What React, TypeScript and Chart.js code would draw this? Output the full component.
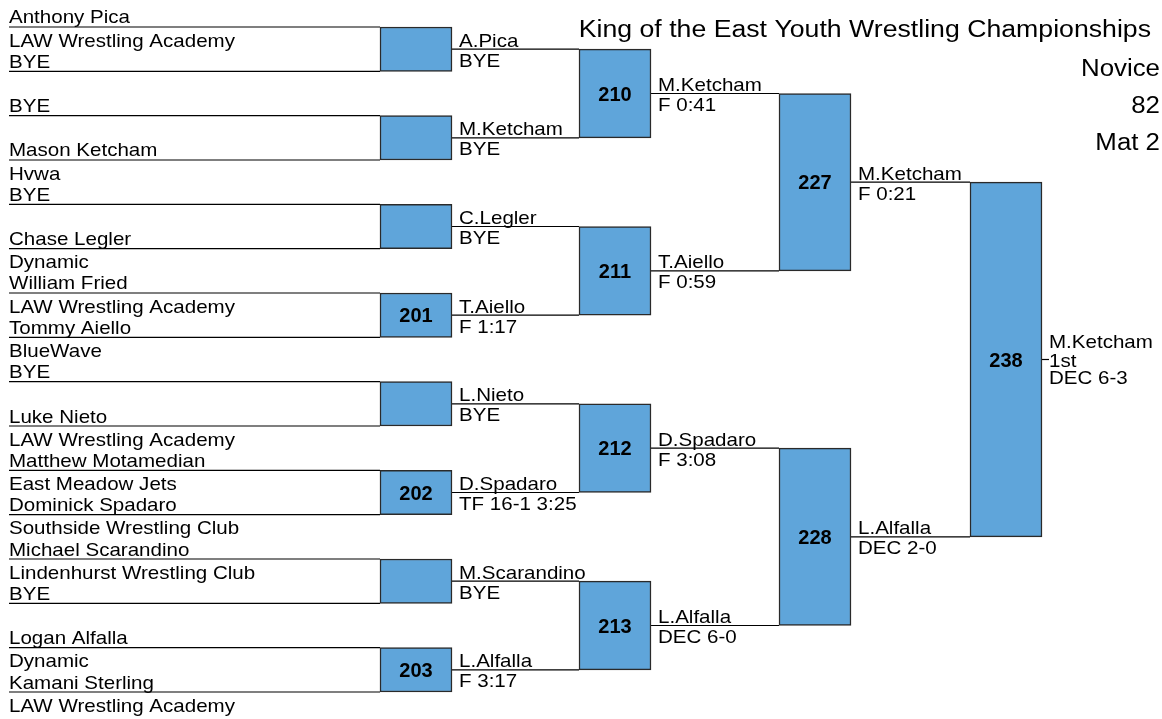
import React, { useEffect, useRef } from "react";
import { Chart, registerables } from "chart.js";

Chart.register(...registerables);

// ---------------- DATA ----------------
const entrantNames = [
  "Anthony Pica", "BYE", "BYE", "Mason Ketcham",
  "BYE", "Chase Legler", "William Fried", "Tommy Aiello",
  "BYE", "Luke Nieto", "Matthew Motamedian", "Dominick Spadaro",
  "Michael Scarandino", "BYE", "Logan Alfalla", "Kamani Sterling",
];
const entrantTeams = [
  "LAW Wrestling Academy", "", "", "Hvwa",
  "", "Dynamic", "LAW Wrestling Academy", "BlueWave",
  "", "LAW Wrestling Academy", "East Meadow Jets", "Southside Wrestling Club",
  "Lindenhurst Wrestling Club", "", "Dynamic", "LAW Wrestling Academy",
];

const round1Bouts = ["", "", "", "201", "", "202", "", "203"];
const round1Winners = ["A.Pica", "M.Ketcham", "C.Legler", "T.Aiello", "L.Nieto", "D.Spadaro", "M.Scarandino", "L.Alfalla"];
const round1Results = ["BYE", "BYE", "BYE", "F 1:17", "BYE", "TF 16-1 3:25", "BYE", "F 3:17"];

const round2Bouts = ["210", "211", "212", "213"];
const round2Winners = ["M.Ketcham", "T.Aiello", "D.Spadaro", "L.Alfalla"];
const round2Results = ["F 0:41", "F 0:59", "F 3:08", "DEC 6-0"];

const round3Bouts = ["227", "228"];
const round3Winners = ["M.Ketcham", "L.Alfalla"];
const round3Results = ["F 0:21", "DEC 2-0"];

const finalBouts = ["238"];
const finalWinners = ["M.Ketcham"];
const finalPlaces = ["1st"];
const finalResults = ["DEC 6-3"];

const headerLines = ["King of the East Youth Wrestling Championships", "Novice", "82", "Mat 2"];

const rounds = [
  { bouts: round1Bouts, winners: round1Winners, results: round1Results },
  { bouts: round2Bouts, winners: round2Winners, results: round2Results },
  { bouts: round3Bouts, winners: round3Winners, results: round3Results },
  { bouts: finalBouts, winners: finalWinners, results: finalResults },
];

// ---------------- LAYOUT / STYLE ----------------
const W = 1162;
const H = 719;
const Y_MIN = -0.609;
const Y_MAX = 15.609;
const ENTRY_LEFT = 9;
const COL_LEFT = [380, 579, 779, 970];
const BOX_W = 72;
const FINAL_TICK = 7;
const BOX_FILL = "#5FA5DA";
const BOX_BORDER = "#2a2a2a";
const FONT_FAMILY = "'Liberation Sans', Arial, Helvetica, sans-serif";
const TEXT_FONT = `18.5px ${FONT_FAMILY}`;
const BOLD_FONT = `bold 20px ${FONT_FAMILY}`;
const HEAD_FONT = `23.5px ${FONT_FAMILY}`;
const STRETCH = 1.11;

type Match = { round: number; idx: number; top: number; bottom: number; mid: number };

function buildMatches(): Match[] {
  const out: Match[] = [];
  let inputs = entrantNames.map((_, i) => i);
  rounds.forEach((r, ri) => {
    const next: number[] = [];
    r.bouts.forEach((_, k) => {
      const top = inputs[2 * k];
      const bottom = inputs[2 * k + 1];
      const mid = (top + bottom) / 2;
      out.push({ round: ri, idx: k, top, bottom, mid });
      next.push(mid);
    });
    inputs = next;
  });
  return out;
}

function drawText(
  ctx: CanvasRenderingContext2D,
  text: string,
  x: number,
  y: number,
  align: CanvasTextAlign,
  font: string,
  sx: number
) {
  if (!text) return;
  ctx.save();
  ctx.font = font;
  ctx.fillStyle = "#000";
  ctx.textAlign = align;
  ctx.textBaseline = "alphabetic";
  ctx.translate(x, y);
  ctx.scale(sx, 1);
  ctx.fillText(text, 0, 0);
  ctx.restore();
}

export default function App() {
  const ref = useRef<HTMLCanvasElement | null>(null);

  useEffect(() => {
    document.body.style.margin = "0";
    const canvas = ref.current;
    if (!canvas) return;
    const matches = buildMatches();

    const lineDatasets: any[] = [];
    const seg = (x1: number, x2: number, y: number) => ({
      type: "line",
      data: [{ x: x1, y }, { x: x2, y }],
      borderColor: "#000",
      borderWidth: 1.2,
      pointRadius: 0,
      fill: false,
      order: 2,
    });
    entrantNames.forEach((_, i) => lineDatasets.push(seg(ENTRY_LEFT, COL_LEFT[0], i)));
    matches.forEach((m) => {
      const x1 = COL_LEFT[m.round] + BOX_W;
      const x2 = m.round < rounds.length - 1 ? COL_LEFT[m.round + 1] : x1 + FINAL_TICK;
      lineDatasets.push(seg(x1, x2, m.mid));
    });

    const boxDataset: any = {
      type: "bar",
      data: matches.map((m) => ({ x: COL_LEFT[m.round] + BOX_W / 2, y: [m.top, m.bottom] })),
      backgroundColor: BOX_FILL,
      borderColor: BOX_BORDER,
      borderWidth: 1.5,
      borderSkipped: false,
      barThickness: BOX_W,
      grouped: false,
      order: 1,
    };

    const textPlugin = {
      id: "bracketText",
      afterDatasetsDraw(chart: any) {
        const ctx: CanvasRenderingContext2D = chart.ctx;
        const xs = chart.scales.x;
        const ys = chart.scales.y;
        // entrants
        entrantNames.forEach((name, i) => {
          const py = ys.getPixelForValue(i);
          const px = xs.getPixelForValue(ENTRY_LEFT);
          drawText(ctx, name, px, py - 3.5, "left", TEXT_FONT, STRETCH);
          drawText(ctx, entrantTeams[i], px, py + 19.7, "left", TEXT_FONT, STRETCH);
        });
        // matches
        matches.forEach((m) => {
          const r = rounds[m.round];
          const cx = xs.getPixelForValue(COL_LEFT[m.round] + BOX_W / 2);
          const cy = ys.getPixelForValue(m.mid);
          drawText(ctx, r.bouts[m.idx], cx, cy + 7.2, "center", BOLD_FONT, 1);
          const isFinal = m.round === rounds.length - 1;
          const tx = xs.getPixelForValue(COL_LEFT[m.round] + BOX_W + (isFinal ? FINAL_TICK : 7));
          if (isFinal) {
            drawText(ctx, r.winners[m.idx], tx, cy - 12, "left", TEXT_FONT, STRETCH);
            drawText(ctx, finalPlaces[m.idx], tx, cy + 7, "left", TEXT_FONT, STRETCH);
            drawText(ctx, r.results[m.idx], tx, cy + 24.8, "left", TEXT_FONT, STRETCH);
          } else {
            drawText(ctx, r.winners[m.idx], tx, cy - 2.6, "left", TEXT_FONT, STRETCH);
            drawText(ctx, r.results[m.idx], tx, cy + 17.4, "left", TEXT_FONT, STRETCH);
          }
        });
        // header
        drawText(ctx, headerLines[0], 1151, 37, "right", HEAD_FONT, 1.135);
        drawText(ctx, headerLines[1], 1160, 76, "right", HEAD_FONT, 1.1);
        drawText(ctx, headerLines[2], 1160, 113, "right", HEAD_FONT, 1.1);
        drawText(ctx, headerLines[3], 1160, 149.5, "right", HEAD_FONT, 1.1);
      },
    };

    const chart = new Chart(canvas, {
      type: "bar",
      data: { datasets: [boxDataset, ...lineDatasets] },
      options: {
        animation: false,
        responsive: false,
        maintainAspectRatio: false,
        devicePixelRatio: 1,
        events: [],
        layout: { padding: 0 },
        plugins: { legend: { display: false }, tooltip: { enabled: false }, title: { display: false } },
        scales: {
          x: { type: "linear", min: 0, max: W, display: false, offset: false, grid: { display: false } },
          y: { type: "linear", min: Y_MIN, max: Y_MAX, reverse: true, display: false, grid: { display: false } },
        },
      } as any,
      plugins: [textPlugin],
    } as any);

    return () => chart.destroy();
  }, []);

  return (
    <div style={{ width: W, height: H, background: "#fff" }}>
      <canvas ref={ref} width={W} height={H} style={{ display: "block" }} />
    </div>
  );
}
